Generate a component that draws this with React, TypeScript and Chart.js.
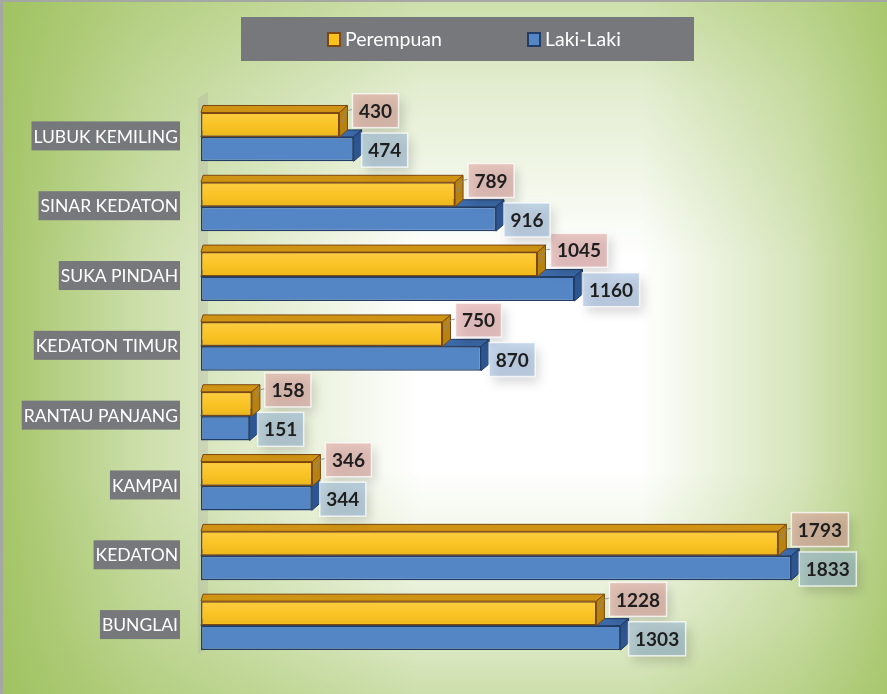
import React, { useEffect, useRef } from 'react';
import { Chart, registerables } from 'chart.js';

Chart.register(...registerables);

const categories = [
  'LUBUK KEMILING',
  'SINAR KEDATON',
  'SUKA PINDAH',
  'KEDATON TIMUR',
  'RANTAU PANJANG',
  'KAMPAI',
  'KEDATON',
  'BUNGLAI',
];
const perempuan = [430, 789, 1045, 750, 158, 346, 1793, 1228];
const lakiLaki = [474, 916, 1160, 870, 151, 344, 1833, 1303];
const seriesNames = ['Perempuan', 'Laki-Laki'];
const xMin = 0;
const xMax = 2000;

const W = 887;
const H = 694;
const DX = 8;
const DY = 7;

const faceStyles = [
  { front: '#fbc21c', top: '#cf9414', side: '#b88210', edge: '#7c4712', label: 'rgba(222,158,156,0.55)', labelDy: -14, gap: 13 },
  { front: '#5486c6', top: '#3d6aa9', side: '#2e5792', edge: '#213c66', label: 'rgba(148,180,218,0.52)', labelDy: 1, gap: 8 },
];

function barRect(bar: any) {
  const p = bar.getProps(['x', 'y', 'base', 'height'], true);
  const x0 = Math.min(p.base, p.x);
  const x1 = Math.max(p.base, p.x);
  return { x0, x1, y0: p.y - p.height / 2, y1: p.y + p.height / 2, cy: p.y };
}

function drawFaces(ctx: CanvasRenderingContext2D, chart: any, dsIndex: number) {
  const meta = chart.getDatasetMeta(dsIndex);
  const s = faceStyles[dsIndex];
  meta.data.forEach((bar: any) => {
    const { x0, x1, y0, y1 } = barRect(bar);
    ctx.save();
    ctx.lineWidth = 1;
    ctx.strokeStyle = s.edge;
    ctx.lineJoin = 'round';
    ctx.beginPath();
    ctx.moveTo(x0, y0);
    ctx.lineTo(x0 + 2, y0 - DY);
    ctx.lineTo(x1 + DX, y0 - DY);
    ctx.lineTo(x1, y0);
    ctx.closePath();
    ctx.fillStyle = s.top;
    ctx.fill();
    ctx.stroke();
    ctx.beginPath();
    ctx.moveTo(x1, y0);
    ctx.lineTo(x1 + DX, y0 - DY);
    ctx.lineTo(x1 + DX, y1 - DY);
    ctx.lineTo(x1, y1);
    ctx.closePath();
    ctx.fillStyle = s.side;
    ctx.fill();
    ctx.stroke();
    const g = ctx.createLinearGradient(0, y0, 0, y1);
    g.addColorStop(0, 'rgba(255,255,255,0.18)');
    g.addColorStop(0.45, 'rgba(255,255,255,0.05)');
    g.addColorStop(1, 'rgba(0,0,0,0.06)');
    ctx.fillStyle = g;
    ctx.fillRect(x0 + 2, y0 + 2, x1 - x0 - 4, y1 - y0 - 4);
    ctx.restore();
  });
}

function drawLabels(ctx: CanvasRenderingContext2D, chart: any, dsIndex: number) {
  const meta = chart.getDatasetMeta(dsIndex);
  const s = faceStyles[dsIndex];
  const values = chart.data.datasets[dsIndex].data as number[];
  ctx.save();
  ctx.font = 'bold 19px Lato';
  meta.data.forEach((bar: any, i: number) => {
    const { x1, y0, cy } = barRect(bar);
    const text = String(values[i]);
    const tw = ctx.measureText(text).width;
    const bw = tw + 13;
    const bh = 34;
    const bx = x1 + s.gap;
    const by = cy + s.labelDy - bh / 2;
    if (dsIndex === 0) {
      ctx.save();
      ctx.strokeStyle = 'rgba(140,140,140,0.9)';
      ctx.lineWidth = 1;
      ctx.beginPath();
      ctx.moveTo(x1 + 3, y0 + 10);
      ctx.quadraticCurveTo(x1 + 4, y0 - 3, bx, y0 - 3);
      ctx.stroke();
      ctx.restore();
    }
    ctx.save();
    ctx.shadowColor = 'rgba(0,0,0,0.28)';
    ctx.shadowBlur = 10;
    ctx.shadowOffsetX = 4;
    ctx.shadowOffsetY = 6;
    ctx.fillStyle = s.label;
    ctx.fillRect(bx, by, bw, bh);
    ctx.restore();
    ctx.strokeStyle = 'rgba(255,255,255,0.75)';
    ctx.lineWidth = 1.5;
    ctx.strokeRect(bx, by, bw, bh);
    ctx.fillStyle = '#1e1e1e';
    ctx.textAlign = 'center';
    ctx.textBaseline = 'middle';
    ctx.fillText(text, bx + bw / 2, by + bh / 2 + 1);
  });
  ctx.restore();
}

function edgeGreen(ctx: CanvasRenderingContext2D, x0: number, y0: number, x1: number, y1: number, a: number) {
  const g = ctx.createLinearGradient(x0, y0, x1, y1);
  g.addColorStop(0, `rgba(155,191,88,${a})`);
  g.addColorStop(0.35, `rgba(155,191,88,${a * 0.55})`);
  g.addColorStop(1, 'rgba(155,191,88,0)');
  ctx.fillStyle = g;
  ctx.fillRect(0, 0, W, H);
}

const decorPlugin = {
  id: 'decor3d',
  beforeDraw(chart: any) {
    const ctx = chart.ctx as CanvasRenderingContext2D;
    ctx.save();
    ctx.fillStyle = '#ffffff';
    ctx.fillRect(0, 0, W, H);
    edgeGreen(ctx, 0, 0, 420, 0, 0.9);
    edgeGreen(ctx, W, 0, 640, 0, 0.75);
    edgeGreen(ctx, 0, 0, 0, 260, 0.5);
    edgeGreen(ctx, 0, H, 0, 470, 0.5);
    ctx.fillStyle = '#a5a7a3';
    ctx.fillRect(0, 0, W, 2);
    ctx.fillRect(0, 0, 3, H);
    const a = chart.chartArea;
    ctx.fillStyle = 'rgba(170,170,160,0.28)';
    ctx.beginPath();
    ctx.moveTo(a.left - 3, a.top - 4);
    ctx.lineTo(a.left + 7, a.top - 10);
    ctx.lineTo(a.left + 7, a.bottom - 12);
    ctx.lineTo(a.left - 3, a.bottom - 6);
    ctx.closePath();
    ctx.fill();
    ctx.restore();
  },
  beforeDatasetsDraw(chart: any) {
    drawFaces(chart.ctx, chart, 1);
  },
  afterDatasetsDraw(chart: any) {
    const ctx = chart.ctx as CanvasRenderingContext2D;
    drawFaces(ctx, chart, 0);
    drawLabels(ctx, chart, 0);
    drawLabels(ctx, chart, 1);
  },
  afterDraw(chart: any) {
    const ctx = chart.ctx as CanvasRenderingContext2D;
    ctx.save();
    ctx.fillStyle = '#77787b';
    ctx.fillRect(241, 17, 453, 44);
    ctx.font = '19.5px Lato';
    ctx.textBaseline = 'middle';
    ctx.textAlign = 'left';
    const xs = [327, 527];
    chart.data.datasets.forEach((ds: any, i: number) => {
      const x = xs[i];
      ctx.fillStyle = ds.borderColor;
      ctx.fillRect(x, 32, 14, 15);
      ctx.fillStyle = ds.backgroundColor;
      ctx.fillRect(x + 2, 34, 10, 11);
      ctx.fillStyle = '#ffffff';
      ctx.fillText(ds.label, x + 18, 40);
    });
    ctx.restore();
  },
};

export default function App() {
  const ref = useRef<HTMLCanvasElement | null>(null);
  useEffect(() => {
    if (!ref.current) return;
    const chart = new Chart(ref.current, {
      type: 'bar',
      data: {
        labels: categories,
        datasets: [
          {
            label: seriesNames[0],
            data: perempuan,
            backgroundColor: faceStyles[0].front,
            borderColor: faceStyles[0].edge,
            borderWidth: 1.5,
            borderSkipped: false,
            barPercentage: 1,
            categoryPercentage: 0.7,
          },
          {
            label: seriesNames[1],
            data: lakiLaki,
            backgroundColor: faceStyles[1].front,
            borderColor: faceStyles[1].edge,
            borderWidth: 1.5,
            borderSkipped: false,
            barPercentage: 1,
            categoryPercentage: 0.7,
          },
        ],
      },
      options: {
        indexAxis: 'y',
        animation: false,
        responsive: false,
        devicePixelRatio: 1,
        layout: { padding: { top: 102, bottom: 32, left: 0, right: 42 } },
        plugins: {
          legend: { display: false },
          tooltip: { enabled: false },
        },
        scales: {
          x: { type: 'linear', min: xMin, max: xMax, display: false },
          y: {
            type: 'category',
            grid: { display: false, drawTicks: false },
            border: { display: false },
            ticks: {
              color: '#ffffff',
              font: { family: 'Lato', size: 17.5 },
              padding: 23,
              showLabelBackdrop: true,
              backdropColor: '#77787b',
              backdropPadding: { top: 5, bottom: 3, left: 2, right: 2 },
            },
            afterFit: (s: any) => {
              s.width = 201;
            },
          },
        },
      },
      plugins: [decorPlugin],
    } as any);
    return () => chart.destroy();
  }, []);
  return (
    <div style={{ position: 'absolute', left: 0, top: 0, width: W, height: H }}>
      <canvas ref={ref} width={W} height={H} style={{ display: 'block' }} />
    </div>
  );
}
